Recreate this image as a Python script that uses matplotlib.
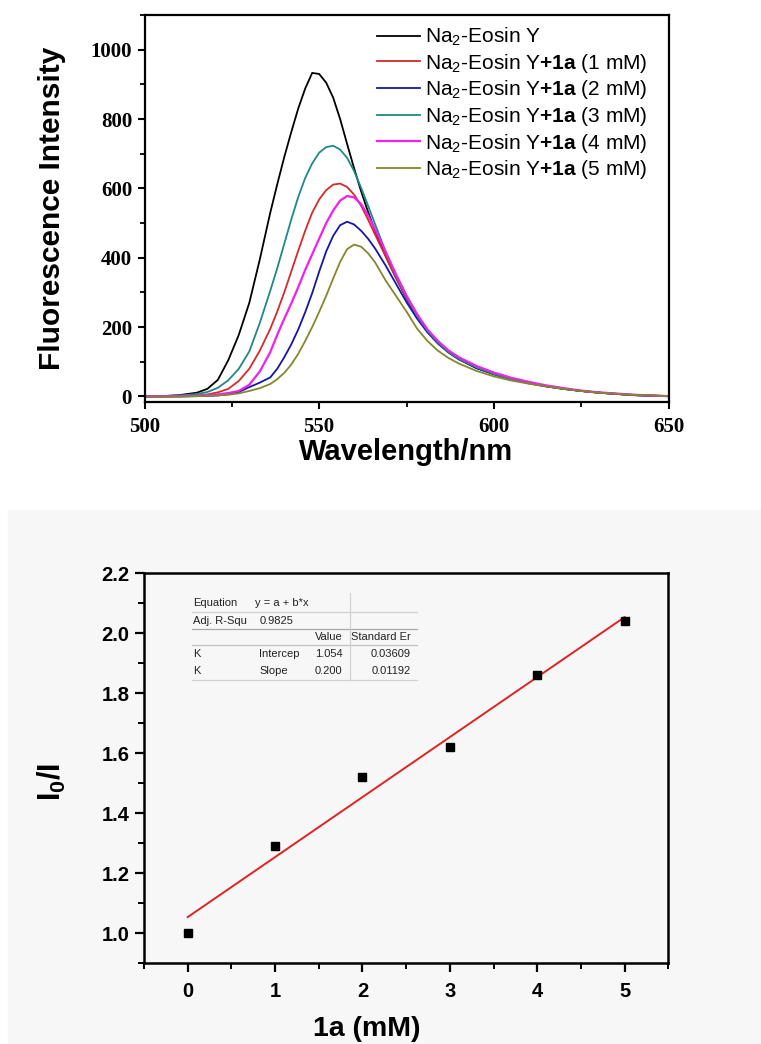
import numpy as np
import matplotlib.pyplot as plt
from matplotlib.lines import Line2D
from matplotlib.patches import Rectangle
from matplotlib.ticker import MultipleLocator

plt.rcParams['font.family'] = ['Liberation Sans', 'DejaVu Sans']
plt.rcParams['mathtext.fontset'] = 'custom'
plt.rcParams['mathtext.rm'] = 'Liberation Sans'
plt.rcParams['mathtext.bf'] = 'Liberation Sans:bold'
plt.rcParams['mathtext.it'] = 'Liberation Sans:italic'

# ---- top panel: emission spectra ----
wavelength = [500, 505, 510, 515, 518, 521, 524, 527, 530, 533,
              536, 538, 540, 542, 544, 546, 548, 550, 552, 554, 556, 558, 560, 562, 564, 566,
              569, 572, 575, 578, 581, 584, 587, 590,
              595, 600, 605, 610, 615, 620, 625, 630, 640, 650]
eosin = [0, 1, 4, 11, 22, 48, 105, 178, 270, 395,
         530, 612, 690, 762, 830, 888, 933, 930, 905, 862, 800, 728, 658, 592, 532, 478,
         405, 342, 283, 230, 187, 153, 127, 107,
         82, 64, 50, 38, 29, 22, 16, 11, 4, 1]
mm1 = [0, 0, 1, 3, 6, 12, 22, 45, 80, 132,
       195, 245, 300, 360, 420, 478, 530, 568, 595, 611, 614, 604, 582, 550, 510, 467,
       405, 342, 284, 231, 188, 155, 128, 108,
       84, 65, 51, 39, 30, 22, 16, 11, 4, 1]
mm2 = [0, 0, 0, 1, 2, 3, 7, 13, 27, 40,
       55, 80, 113, 150, 193, 243, 298, 360, 418, 463, 494, 504, 496, 478, 455, 427,
       378, 325, 272, 225, 185, 153, 128, 108,
       82, 65, 51, 40, 30, 22, 16, 11, 4, 1]
mm3 = [0, 1, 3, 7, 13, 25, 47, 80, 130, 212,
       305, 370, 440, 510, 575, 630, 672, 703, 719, 723, 712, 688, 650, 602, 550, 497,
       418, 348, 287, 233, 189, 155, 128, 108,
       84, 65, 50, 39, 30, 22, 16, 11, 4, 1]
mm4 = [0, 0, 1, 2, 4, 6, 10, 16, 34, 72,
       128, 178, 224, 268, 315, 365, 410, 455, 500, 536, 565, 578, 574, 555, 522, 482,
       418, 352, 291, 238, 193, 160, 133, 113,
       88, 69, 54, 42, 32, 24, 17, 12, 5, 1]
mm5 = [0, 0, 0, 1, 2, 3, 5, 9, 16, 24,
       36, 50, 68, 92, 123, 160, 200, 244, 290, 340, 388, 425, 438, 432, 413, 387,
       335, 290, 245, 196, 160, 132, 111, 95,
       74, 58, 46, 37, 29, 22, 16, 11, 5, 1]

series = [eosin, mm1, mm2, mm3, mm4, mm5]
labels = ['Na$_2$-Eosin Y',
          'Na$_2$-Eosin Y$\\mathbf{+1a}$ (1 mM)',
          'Na$_2$-Eosin Y$\\mathbf{+1a}$ (2 mM)',
          'Na$_2$-Eosin Y$\\mathbf{+1a}$ (3 mM)',
          'Na$_2$-Eosin Y$\\mathbf{+1a}$ (4 mM)',
          'Na$_2$-Eosin Y$\\mathbf{+1a}$ (5 mM)']
colors = ['#000000', '#d42a2a', '#1616a4', '#1f8888', '#f020f0', '#86862a']

# ---- bottom panel: Stern-Volmer plot ----
conc = [0, 1, 2, 3, 4, 5]
ratio = [1.00, 1.29, 1.52, 1.62, 1.86, 2.04]
fit_intercept = 1.054
fit_slope = 0.200

table_rows = [['Equation', 'y = a + b*x', '', ''],
              ['Adj. R-Squ', '0.9825', '', ''],
              ['', '', 'Value', 'Standard Er'],
              ['K', 'Intercep', '1.054', '0.03609'],
              ['K', 'Slope', '0.200', '0.01192']]

W, H = 761, 1044
fig = plt.figure(figsize=(W / 100, H / 100), dpi=100)


def fc(px, py):
    return px / W, 1 - py / H


fig.add_artist(Rectangle((8 / W, 0), 1 - 8 / W, 1 - 510 / H,
                         transform=fig.transFigure, color='#f7f7f7', zorder=-5))

# top axes
ax1 = fig.add_axes([144.5 / W, 1 - 401.7 / H, 524 / W, 386.7 / H])
for y, c, lab in zip(series, colors, labels):
    ax1.plot(wavelength, y, color=c, lw=1.6 if c == '#f020f0' else 1.3, label=lab)
ax1.set_xlim(500, 650)
ax1.set_ylim(-15, 1100)
ax1.xaxis.set_major_locator(MultipleLocator(50))
ax1.xaxis.set_minor_locator(MultipleLocator(25))
ax1.yaxis.set_major_locator(MultipleLocator(200))
ax1.yaxis.set_minor_locator(MultipleLocator(100))
ax1.yaxis.set_major_formatter(lambda v, p: '%d' % v if v <= 1000 else '')
ax1.tick_params(which='major', direction='out', length=5, width=1.5, labelsize=15, pad=4)
ax1.tick_params(which='minor', direction='out', length=3.5, width=1.3)
ax1.tick_params(axis='x', which='major', pad=6)
for lab in ax1.get_xticklabels() + ax1.get_yticklabels():
    lab.set_fontfamily('Liberation Serif')
    lab.set_fontweight('bold')
for s in ax1.spines.values():
    s.set_linewidth(1.6)
ax1.set_xlabel('Wavelength/nm', fontsize=21, fontweight='bold')
ax1.xaxis.set_label_coords(0.5, -0.095)
ax1.set_ylabel('Fluorescence Intensity', fontsize=21.5, fontweight='bold')
ax1.yaxis.set_label_coords(-0.150, 0.5)
ax1.legend(loc='upper left', bbox_to_anchor=(0.444, 0.972), frameon=False,
           fontsize=15, handlelength=2.05, handletextpad=0.25, labelspacing=0.175,
           borderpad=0, borderaxespad=0)

# bottom axes
ax2 = fig.add_axes([144 / W, 1 - 963.3 / H, 524.3 / W, 390 / H])
ax2.set_facecolor('#f7f7f7')
xs = np.array([conc[0], conc[-1]])
ax2.plot(xs, fit_intercept + fit_slope * xs, color='#e02222', lw=1.4, zorder=2)
ax2.plot(conc, ratio, 's', color='black', ms=6, zorder=3)
ax2.set_xlim(-0.5, 5.5)
ax2.set_ylim(0.9, 2.2)
ax2.xaxis.set_major_locator(MultipleLocator(1))
ax2.xaxis.set_minor_locator(MultipleLocator(0.5))
ax2.yaxis.set_major_locator(MultipleLocator(0.2))
ax2.yaxis.set_minor_locator(MultipleLocator(0.1))
ax2.yaxis.set_major_formatter(lambda v, p: '%.1f' % v if v > 0.95 else '')
ax2.tick_params(which='major', direction='out', length=6.5, width=1.6, labelsize=14.5, pad=4)
ax2.tick_params(which='minor', direction='out', length=4, width=1.4)
ax2.tick_params(axis='x', which='major', pad=7)
for lab in ax2.get_xticklabels() + ax2.get_yticklabels():
    lab.set_fontweight('bold')
for s in ax2.spines.values():
    s.set_linewidth(1.8)
ax2.set_xlabel('1a (mM)', fontsize=20.5, fontweight='bold')
ax2.xaxis.set_label_coords(0.424, -0.135)
ax2.set_ylabel('$\\mathbf{I_0/I}$', fontsize=22)
ax2.yaxis.set_label_coords(-0.145, 0.465)

# fit-result table inset
col_x = [193.3, 259.3, 342.7, 410.7]
col_ha = ['left', 'left', 'right', 'right']
row_y = [602.7, 620.7, 637.3, 654.0, 670.7]
for r, yy in zip(table_rows, row_y):
    for txt, xx, ha in zip(r, col_x, col_ha):
        if txt:
            if r[0] == 'Equation' and txt != 'Equation':
                xx = 255
            fig.text(*fc(xx, yy), txt, fontsize=8, ha=ha, va='center', color='#222222')
for yy, c in [(611.7, '#d0d0d0'), (629.3, '#a8a8a8'), (645.0, '#c0c0c0'), (680.0, '#d0d0d0')]:
    fig.add_artist(Line2D([191.7 / W, 416.7 / W], [1 - yy / H, 1 - yy / H],
                          transform=fig.transFigure, color=c, lw=0.9))
fig.add_artist(Line2D([350 / W, 350 / W], [1 - 593 / H, 1 - 680 / H],
                      transform=fig.transFigure, color='#d0d0d0', lw=0.9))

fig.savefig('out.png', dpi=100)
